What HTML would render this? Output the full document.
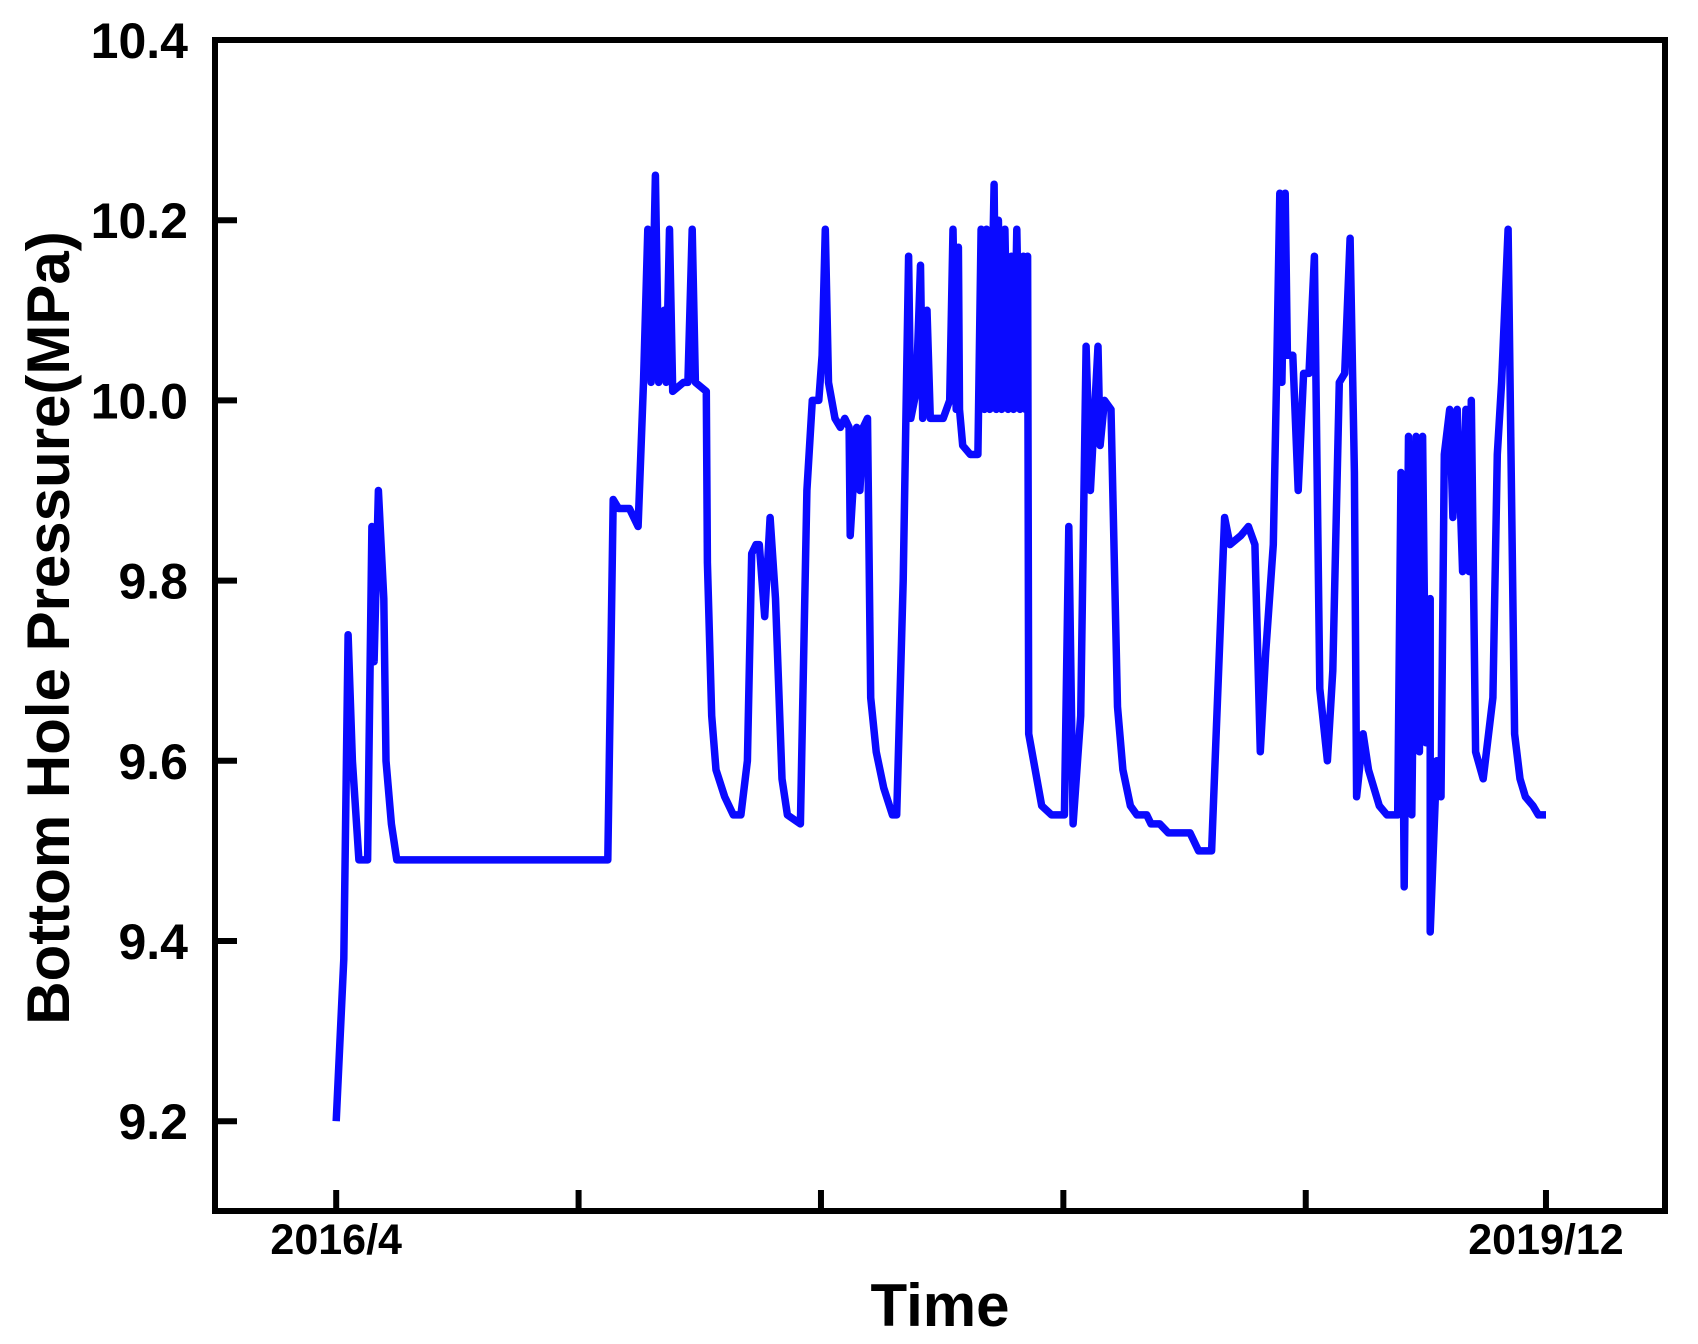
<!DOCTYPE html>
<html><head><meta charset="utf-8"><style>
html,body{margin:0;padding:0;background:#fff;}
svg{display:block;font-family:"Liberation Sans",Arial,sans-serif;font-weight:bold;}
</style></head><body>
<svg id="chart" width="1698" height="1344" viewBox="0 0 1698 1344" xmlns="http://www.w3.org/2000/svg">
<g id="plot"></g>
</svg>
<script>
// time index (arbitrary, 2016/4 = 309, 2019/12 = 1427)
const xTickValues = [309, 533, 757, 981, 1205, 1427];
const xTickLabels = ["2016/4", "", "", "", "", "2019/12"];
const yTickValues = [9.2, 9.4, 9.6, 9.8, 10.0, 10.2, 10.4];
const yTickLabels = ["9.2", "9.4", "9.6", "9.8", "10.0", "10.2", "10.4"];
const timeIdx = [309,316,320,324,330,338,342,344,348,353,355,360,365,400,450,500,530,555,560,565,570,575,580,588,593,597,600,604,607,612,614,617,620,630,634,638,641,651,652,656,660,668,676,683,689,693,697,700,705,710,715,721,726,738,744,749,755,758,761,764,770,775,779,783,784,790,793,796,800,803,808,815,823,827,833,838,840,845,849,851,855,858,865,870,876,879,882,884,885,888,895,902,905,908,910,913,917,919,921,924,927,930,933,935,938,941,944,946,948,949,955,961,970,978,982,986,990,997,1002,1006,1013,1015,1019,1025,1031,1036,1043,1049,1058,1062,1070,1078,1090,1098,1106,1112,1118,1130,1135,1145,1152,1158,1163,1168,1175,1178,1181,1183,1186,1188,1193,1198,1203,1208,1213,1218,1225,1230,1236,1241,1246,1250,1252,1258,1263,1268,1273,1280,1290,1293,1296,1300,1303,1307,1310,1313,1316,1320,1320,1326,1330,1333,1338,1341,1345,1350,1353,1356,1358,1362,1369,1378,1382,1386,1392,1398,1403,1408,1415,1420,1427];
const pressure = [9.20,9.38,9.74,9.60,9.49,9.49,9.86,9.71,9.90,9.78,9.60,9.53,9.49,9.49,9.49,9.49,9.49,9.49,9.49,9.89,9.88,9.88,9.88,9.86,10.02,10.19,10.02,10.25,10.02,10.10,10.02,10.19,10.01,10.02,10.02,10.19,10.02,10.01,9.82,9.65,9.59,9.56,9.54,9.54,9.60,9.83,9.84,9.84,9.76,9.87,9.78,9.58,9.54,9.53,9.90,10.00,10.00,10.05,10.19,10.02,9.98,9.97,9.98,9.97,9.85,9.97,9.90,9.97,9.98,9.67,9.61,9.57,9.54,9.54,9.80,10.16,9.98,10.01,10.15,9.98,10.10,9.98,9.98,9.98,10.00,10.19,9.99,10.17,9.99,9.95,9.94,9.94,10.19,9.99,10.19,9.99,10.24,9.99,10.20,9.99,10.19,9.99,10.16,9.99,10.19,9.99,10.16,9.99,10.16,9.63,9.59,9.55,9.54,9.54,9.54,9.86,9.53,9.65,10.06,9.90,10.06,9.95,10.00,9.99,9.66,9.59,9.55,9.54,9.54,9.53,9.53,9.52,9.52,9.52,9.50,9.50,9.50,9.87,9.84,9.85,9.86,9.84,9.61,9.72,9.84,10.02,10.23,10.02,10.23,10.05,10.05,9.90,10.03,10.03,10.16,9.68,9.60,9.70,10.02,10.03,10.18,9.92,9.56,9.63,9.59,9.57,9.55,9.54,9.54,9.92,9.46,9.96,9.54,9.96,9.61,9.96,9.62,9.78,9.41,9.60,9.56,9.94,9.99,9.87,9.99,9.81,9.99,9.81,10.00,9.61,9.58,9.67,9.94,10.02,10.19,9.63,9.58,9.56,9.55,9.54,9.54];

const X0 = 215, X1 = 1665, Y0 = 40, Y1 = 1211;
const tMin = 197, tMax = 1537, vMin = 10.4 - (Y1 - Y0) / 180.2 * 0.2, vMax = 10.4;
function xs(t){ return X0 + (t - tMin) / (tMax - tMin) * (X1 - X0); }
function ys(v){ return Y0 + (vMax - v) / (vMax - vMin) * (Y1 - Y0); }
const NS = "http://www.w3.org/2000/svg";
const g = document.getElementById('plot');
function mk(tag, attrs){ const e = document.createElementNS(NS, tag); for (const k in attrs) e.setAttribute(k, attrs[k]); g.appendChild(e); return e; }

let d = "";
timeIdx.forEach((t, i) => { d += (i ? "L" : "M") + xs(t).toFixed(1) + "," + ys(pressure[i]).toFixed(1); });
const line = mk('path', {d: d, fill: "none", stroke: "#0a0aff", "stroke-width": 7.5, "stroke-linejoin": "round"});



const frame = mk('rect', {x: X0, y: Y0, width: X1 - X0, height: Y1 - Y0, fill: "none", stroke: "#000", "stroke-width": 6});



yTickValues.forEach((v, i) => {
  const y = ys(v);
  if (i < yTickValues.length - 1) {
    const tk = mk('line', {x1: X0, x2: X0 + 22, y1: y, y2: y, stroke: "#000", "stroke-width": 6});
    
    
  }
  const tx = mk('text', {x: 188, y: y + 18, "text-anchor": "end", "font-size": 50});
  tx.textContent = yTickLabels[i];
  
  
});
xTickValues.forEach((t, i) => {
  const x = xs(t);
  const tk = mk('line', {x1: x, x2: x, y1: Y1, y2: Y1 - 21, stroke: "#000", "stroke-width": 6});
  
  
  if (xTickLabels[i]) {
    const tx = mk('text', {x: x, y: 1254, "text-anchor": "middle", "font-size": 43});
    tx.textContent = xTickLabels[i];
    
    
  }
});
const xt = mk('text', {x: 940, y: 1326, "text-anchor": "middle", "font-size": 60});
xt.textContent = "Time";


const yt = mk('text', {x: 0, y: 0, "text-anchor": "middle", "font-size": 60, transform: "translate(69,628) rotate(-90)"});
yt.textContent = "Bottom Hole Pressure(MPa)";


</script>
</body></html>
